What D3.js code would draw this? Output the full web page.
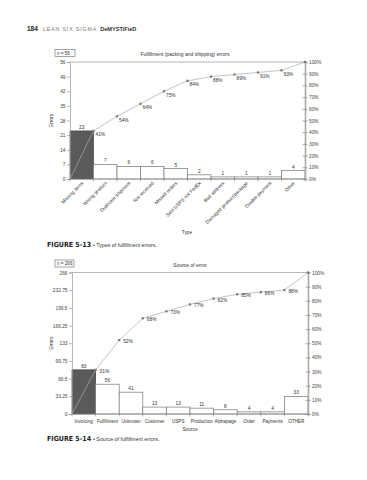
<!DOCTYPE html>
<html>
<head>
<meta charset="utf-8">
<script src="https://cdn.jsdelivr.net/npm/d3@7"></script>
<style>
  body { margin: 0; background: #fff; }
  svg { display: block; font-family: "Liberation Sans", Arial, sans-serif; }
  .tick text { fill: #444; }
</style>
</head>
<body>
<div class="page"></div>
<script>
// figure 5-13 : types of fulfillment errors
const typeCats = ["Missing items", "Wrong product", "Duplicate shipment", "Not received", "Missed orders",
  "Sent USPS not FedEx", "Bad address", "Damaged product/package", "Double payment", "Other"];
const typeCounts = [23, 7, 6, 6, 5, 2, 1, 1, 1, 4];
const typeLeftTicks = [0, 7, 14, 21, 28, 35, 42, 49, 56];

// figure 5-14 : source of error
const sourceCats = ["Invoicing", "Fulfillment", "Unknown", "Customer", "USPS", "Production",
  "Alphapage", "Order", "Payments", "OTHER"];
const sourceCounts = [83, 56, 41, 13, 13, 11, 8, 4, 4, 33];
const sourceLeftTicks = [0, 33.25, 66.5, 99.75, 133, 166.25, 199.5, 232.75, 266];

const pctTicks = [0, .1, .2, .3, .4, .5, .6, .7, .8, .9, 1];

const W = 367, H = 480;

let svg = d3.select(".page").append("svg")
    .attr("width", W)
    .attr("height", H);

svg.append("rect").attr("width", W).attr("height", H).attr("fill", "#fff");

// running header
let head = svg.append("text").attr("x", 27).attr("y", 31).attr("font-size", 6.5);
head.append("tspan").attr("font-weight", "bold").attr("fill", "#222").text("184");
head.append("tspan").attr("x", 43).attr("fill", "#777").attr("letter-spacing", 0.9).attr("font-size", 5.2).text("LEAN SIX SIGMA");
head.append("tspan").attr("dx", 3).attr("fill", "#333").attr("font-weight", "bold").attr("font-size", 5.6).text("DeMYSTiFieD");

function pareto(opt) {
  let total = d3.sum(opt.counts);
  let cum = Array.from(d3.cumsum(opt.counts)); // plain array, Float64Array.map would eat the points

  let x = d3.scaleBand()
      .domain(opt.cats)
      .range([opt.x0, opt.x1])
      .padding(0);

  let y = d3.scaleLinear()
      .domain([0, total])
      .range([opt.yBot, opt.yTop]);

  let yPct = d3.scaleLinear()
      .domain([0, 1])
      .range([opt.yBot, opt.yTop]);

  let g = svg.append("g");

  // n box + title
  g.append("rect")
      .attr("x", 55).attr("y", opt.yTop - 12.5)
      .attr("width", opt.boxW).attr("height", 7)
      .attr("fill", "#fff").attr("stroke", "#666").attr("stroke-width", 0.6);
  g.append("text")
      .attr("x", 57).attr("y", opt.yTop - 7.3)
      .attr("font-size", 4.6).attr("fill", "#333")
      .text("n = " + total);
  g.append("text")
      .attr("x", opt.titleX).attr("y", opt.yTop - 6)
      .attr("text-anchor", "middle")
      .attr("font-size", 5).attr("fill", "#333")
      .text(opt.title);

  // frame top line
  g.append("line")
      .attr("x1", opt.x0).attr("x2", opt.x1)
      .attr("y1", opt.yTop).attr("y2", opt.yTop)
      .attr("stroke", "#999").attr("stroke-width", 0.7);

  // bars
  g.selectAll(".bar")
    .data(opt.counts)
    .enter().append("rect")
      .attr("class", "bar")
      .attr("x", (d, i) => x(opt.cats[i]))
      .attr("y", d => y(d))
      .attr("width", x.bandwidth())
      .attr("height", d => opt.yBot - y(d))
      .attr("fill", (d, i) => i == 0 ? "#5a5a5a" : "#fff")
      .attr("stroke", (d, i) => i == 0 ? "#444" : "#777")
      .attr("stroke-width", 0.7);

  g.selectAll(".barlab")
    .data(opt.counts)
    .enter().append("text")
      .attr("x", (d, i) => x(opt.cats[i]) + x.bandwidth() / 2)
      .attr("y", d => y(d) - 2)
      .attr("text-anchor", "middle")
      .attr("font-size", 4.8).attr("fill", "#333")
      .text(d => d);

  // left axis
  let leftAx = g.append("g")
      .attr("transform", "translate(" + opt.x0 + ",0)")
      .call(d3.axisLeft(y).tickValues(opt.leftTicks).tickSize(3).tickPadding(1.5)
        .tickFormat(d => +d.toFixed(2)));
  leftAx.select(".domain").attr("stroke", "#999").attr("stroke-width", 0.7);
  leftAx.selectAll(".tick line").attr("stroke", "#888").attr("stroke-width", 0.6);
  leftAx.selectAll(".tick text").attr("font-size", 4.8).attr("font-family", "Liberation Sans");

  // right axis (percent)
  let rightAx = g.append("g")
      .attr("transform", "translate(" + opt.x1 + ",0)")
      .call(d3.axisRight(yPct).tickValues(pctTicks).tickSize(2.5).tickPadding(1.5)
        .tickFormat(d3.format(".0%")));
  rightAx.select(".domain").attr("stroke", "#aaa").attr("stroke-width", 1.6);
  rightAx.selectAll(".tick line").attr("x1", -2.5).attr("stroke", "#888").attr("stroke-width", 0.7);
  rightAx.selectAll(".tick text").attr("font-size", 4.8).attr("font-family", "Liberation Sans");

  // bottom axis : ticks at the bar edges
  let edges = opt.cats.map(c => x(c)).concat([opt.x1]);
  g.append("line")
      .attr("x1", opt.x0).attr("x2", opt.x1)
      .attr("y1", opt.yBot).attr("y2", opt.yBot)
      .attr("stroke", "#888").attr("stroke-width", 0.7);
  g.selectAll(".etick")
    .data(edges)
    .enter().append("line")
      .attr("x1", d => d).attr("x2", d => d)
      .attr("y1", opt.yBot).attr("y2", opt.yBot + 2.5)
      .attr("stroke", "#888").attr("stroke-width", 0.6);

  if (opt.rotate) {
    g.selectAll(".xlab")
      .data(opt.cats)
      .enter().append("text")
        .attr("transform", d => "translate(" + (x(d) + x.bandwidth() / 2 + 2) + "," + (opt.yBot + 4.5) + ") rotate(-45)")
        .attr("text-anchor", "end")
        .attr("font-size", 4.8).attr("fill", "#333")
        .text(d => d);
  } else {
    g.selectAll(".xlab")
      .data(opt.cats)
      .enter().append("text")
        .attr("x", d => x(d) + x.bandwidth() / 2)
        .attr("y", opt.yBot + 8.5)
        .attr("text-anchor", "middle")
        .attr("font-size", 4.6).attr("fill", "#333")
        .text(d => d);
  }

  // cumulative line
  let pts = [[opt.x0, opt.yBot]].concat(cum.map((c, i) => [x(opt.cats[i]) + x.bandwidth(), yPct(c / total)]));
  g.append("path")
      .datum(pts)
      .attr("d", d3.line())
      .attr("fill", "none")
      .attr("stroke", "#aaa")
      .attr("stroke-width", 0.7);

  g.selectAll(".pt")
    .data(pts.slice(1))
    .enter().append("rect")
      .attr("x", d => d[0] - 1.1).attr("y", d => d[1] - 1.1)
      .attr("width", 2.2).attr("height", 2.2)
      .attr("fill", "#777");

  g.selectAll(".pctlab")
    .data(cum.slice(0, -1))
    .enter().append("text")
      .attr("x", (c, i) => x(opt.cats[i]) + x.bandwidth() + opt.lblDx)
      .attr("y", c => yPct(c / total) + opt.lblDy)
      .attr("font-size", 4.8).attr("fill", "#333")
      .text(c => Math.round(c / total * 100) + "%");

  // axis titles
  g.append("text")
      .attr("transform", "translate(" + 53 + "," + ((opt.yTop + opt.yBot) / 2) + ") rotate(-90)")
      .attr("text-anchor", "middle")
      .attr("font-size", 4.8).attr("fill", "#333")
      .text("Errors");
  g.append("text")
      .attr("x", opt.xTitleX).attr("y", opt.xTitleY)
      .attr("text-anchor", "middle")
      .attr("font-size", 4.8).attr("fill", "#333")
      .text(opt.xTitle);

  // caption
  let cap = svg.append("text").attr("x", 47).attr("y", opt.capY);
  cap.append("tspan")
      .attr("font-family", "'Liberation Sans Narrow', 'DejaVu Sans Condensed', sans-serif")
      .attr("font-weight", "bold").attr("font-size", 7).attr("fill", "#222")
      .text(opt.figNo);
  cap.append("tspan")
      .attr("dx", 2).attr("font-size", 5.3).attr("fill", "#333")
      .text("\u2022 " + opt.caption);
}

pareto({
  cats: typeCats, counts: typeCounts, leftTicks: typeLeftTicks,
  x0: 70, x1: 305, yTop: 62, yBot: 179,
  boxW: 20, title: "Fulfillment (packing and shipping) errors", titleX: 185,
  rotate: true, lblDx: 2, lblDy: 5.5,
  xTitle: "Type", xTitleX: 187, xTitleY: 234,
  figNo: "FIGURE 5-13", caption: "Types of fulfillment errors.", capY: 247
});

pareto({
  cats: sourceCats, counts: sourceCounts, leftTicks: sourceLeftTicks,
  x0: 72, x1: 308, yTop: 272.5, yBot: 414,
  boxW: 19, title: "Source of error", titleX: 190,
  rotate: false, lblDx: 4, lblDy: 3,
  xTitle: "Source", xTitleX: 190, xTitleY: 431,
  figNo: "FIGURE 5-14", caption: "Source of fulfillment errors.", capY: 441
});
</script>
</body>
</html>
